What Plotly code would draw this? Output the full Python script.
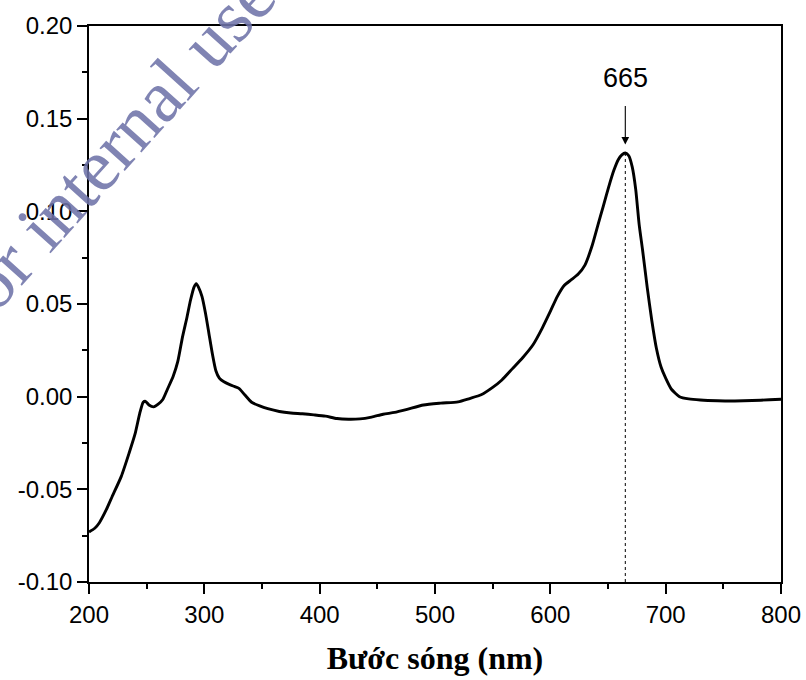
import plotly.graph_objects as go

wavelength = [200, 205, 209, 215, 220, 228, 235, 240, 244, 247, 249, 252, 256, 260, 264, 268, 273, 277, 281, 285,
              288, 291, 293, 295, 298, 301, 304, 307, 310, 313, 317, 322, 326, 330, 335, 341, 348, 355, 365, 375,
              385, 395, 405, 415, 425, 435, 445, 455, 465, 475, 490, 505, 520, 530, 540, 550, 558, 567, 576, 585,
              593, 600, 606, 612, 618, 624, 630, 636, 641, 646, 651, 655, 659, 662, 665, 668, 671, 674, 677, 680,
              684, 688, 692, 696, 700, 705, 712, 720, 730, 745, 760, 775, 790, 800]
absorbance = [-0.073, -0.071, -0.068, -0.061, -0.054, -0.043, -0.030, -0.020, -0.009, -0.003, -0.0025, -0.0045,
              -0.0055, -0.004, -0.0015, 0.004, 0.011, 0.019, 0.032, 0.043, 0.052, 0.059, 0.061, 0.059, 0.054,
              0.045, 0.034, 0.023, 0.014, 0.010, 0.008, 0.0065, 0.0055, 0.0045, 0.001, -0.003, -0.005, -0.0065,
              -0.008, -0.0088, -0.0092, -0.0098, -0.0105, -0.0118, -0.0122, -0.0120, -0.0110, -0.0095, -0.0085,
              -0.007, -0.0045, -0.0035, -0.0028, -0.001, 0.001, 0.005, 0.009, 0.015, 0.021, 0.028, 0.037, 0.046,
              0.054, 0.060, 0.063, 0.066, 0.071, 0.081, 0.092, 0.103, 0.114, 0.122, 0.128, 0.1305, 0.1315, 0.130,
              0.124, 0.112, 0.093, 0.079, 0.059, 0.041, 0.026, 0.016, 0.010, 0.004, 0.000, -0.0012, -0.0018,
              -0.0022, -0.0023, -0.0021, -0.0017, -0.0014]

x_ticks = [200, 300, 400, 500, 600, 700, 800]
y_ticks = [-0.10, -0.05, 0.00, 0.05, 0.10, 0.15, 0.20]
y_ticklabels = ["-0.10", "-0.05", "0.00", "0.05", "0.10", "0.15", "0.20"]
peak_x = 665
peak_label = "665"
x_title = "Bước sóng (nm)"
watermark = "for internal use"

peak_y = absorbance[wavelength.index(peak_x)]

fig = go.Figure()
fig.add_trace(go.Scatter(x=wavelength, y=absorbance, mode="lines",
                         line=dict(color="black", width=2.9, shape="spline", smoothing=0.6),
                         showlegend=False, hoverinfo="skip"))
# dotted marker line at peak
fig.add_trace(go.Scatter(x=[peak_x, peak_x], y=[-0.10, peak_y], mode="lines",
                         line=dict(color="black", width=1, dash="dot"),
                         showlegend=False, hoverinfo="skip"))

axis_common = dict(showline=True, linecolor="black", linewidth=1.6, mirror=True,
                   ticks="outside", ticklen=10, tickwidth=1.6, tickcolor="black",
                   showgrid=False, zeroline=False, automargin=False,
                   tickfont=dict(family="Arial, Liberation Sans", size=24, color="black"))

fig.update_xaxes(range=[200, 800], tickvals=x_ticks,
                 minor=dict(ticks="outside", ticklen=5, tickwidth=1.6, tickcolor="black", dtick=50, tick0=200),
                 title=dict(text="<b>" + x_title + "</b>",
                            font=dict(family="Times New Roman, Liberation Serif", size=32, color="black"),
                            standoff=20),
                 **axis_common)
fig.update_yaxes(range=[-0.10, 0.20], tickvals=y_ticks, ticktext=y_ticklabels,
                 minor=dict(ticks="outside", ticklen=5, tickwidth=1.6, tickcolor="black", dtick=0.025, tick0=0),
                 **axis_common)

fig.add_annotation(x=peak_x, y=peak_y + 0.0045, xref="x", yref="y", text="", showarrow=True,
                   ax=0, ay=-40, arrowhead=2, arrowsize=1.4, arrowwidth=1.1, arrowcolor="black")
fig.add_annotation(x=peak_x, y=0.172, xref="x", yref="y", text=peak_label, showarrow=False,
                   font=dict(family="Arial, Liberation Sans", size=27, color="black"),
                   xanchor="center", yanchor="middle")
fig.add_annotation(x=0.032, y=0.778, xref="paper", yref="paper", text=watermark, showarrow=False,
                   textangle=-48, xanchor="center", yanchor="middle",
                   font=dict(family="Times New Roman, Liberation Serif", size=74, color="rgba(110,115,168,0.88)"))

fig.update_layout(width=806, height=680, margin=dict(l=89, r=25, t=26, b=98, autoexpand=False),
                  plot_bgcolor="white", paper_bgcolor="white")

fig.write_html("out.html")
